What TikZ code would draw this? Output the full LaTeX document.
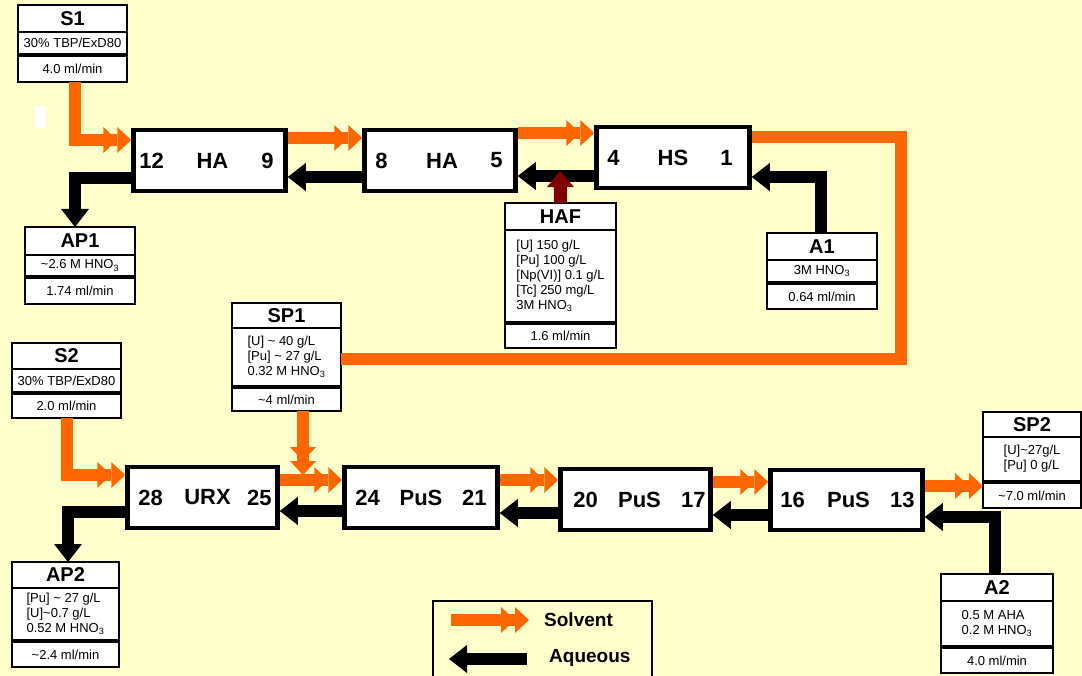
\documentclass[tikz,border=0pt]{standalone}
\usepackage{fontspec}
\setmainfont{Liberation Sans}
\usetikzlibrary{arrows.meta,calc}
\definecolor{bg}{HTML}{FFFFCC}
\definecolor{solvcol}{HTML}{FF6600}
\definecolor{feedcol}{HTML}{800000}
\begin{document}
\begin{tikzpicture}[x=1pt,y=-1pt,
  pbox/.style={draw, line width=4.5pt, fill=white, minimum height=61pt, inner sep=0pt},
  plbl/.style={font=\fontsize{22}{26}\selectfont\bfseries, inner sep=0pt},
  ib/.style={draw, line width=1.5pt, fill=white, inner sep=0pt, outer sep=0pt, font=\fontsize{13}{15}\selectfont, align=center},
  ibl/.style={ib, align=left},
  it/.style={ib, font=\fontsize{20}{24}\selectfont\bfseries},
  dhead/.style={-{Triangle[length=14pt,width=26pt,line width=0pt,sep=0pt]Triangle[length=14pt,width=26pt,line width=0pt]}},
  solv/.style={draw=solvcol, line width=12pt, line join=miter, dhead},
  solvline/.style={draw=solvcol, line width=12pt, line join=miter},
  aq/.style={draw=black, line width=12pt, line join=miter, -{Triangle[length=18pt,width=28pt,line width=0pt]}},
  feed/.style={draw=feedcol, line width=13pt, -{Triangle[length=16pt,width=27pt,line width=0pt]}}
]
\fill[bg] (0,0) rectangle (1082,676);
\useasboundingbox (0,0) rectangle (1082,676);
\fill[white] (35,106) rectangle (46,128);

% process boxes
\node[pbox, minimum width=152pt] (b1) at (209.5,160.5) {};
\node[pbox, minimum width=151pt] (b2) at (440,160.5) {};
\node[pbox, minimum width=153pt] (b3) at (673,157.5) {};
\node[pbox, minimum width=150pt] (b4) at (202.5,497.5) {};
\node[pbox, minimum width=153pt] (b5) at (421,497.5) {};
\node[pbox, minimum width=150pt] (b6) at (635.5,499.5) {};
\node[pbox, minimum width=152pt, minimum height=60pt] (b7) at (846.5,500) {};

\node[plbl, anchor=west] (b1l) at ([xshift=8pt]b1.west) {12};
\node[plbl] (b1c) at ([xshift=3pt]b1.center) {HA};
\node[plbl, anchor=east] (b1r) at ([xshift=-14pt]b1.east) {9};
\node[plbl, anchor=west] (b2l) at ([xshift=13pt]b2.west) {8};
\node[plbl] (b2c) at ([xshift=2pt]b2.center) {HA};
\node[plbl, anchor=east] (b2r) at ([xshift=-15pt]b2.east) {5};
\node[plbl, anchor=west] (b3l) at ([xshift=13pt]b3.west) {4};
\node[plbl] (b3c) at (b3.center) {HS};
\node[plbl, anchor=east] (b3r) at ([xshift=-19pt]b3.east) {1};
\node[plbl, anchor=west] (b4l) at ([xshift=13pt]b4.west) {28};
\node[plbl] (b4c) at ([xshift=5pt]b4.center) {URX};
\node[plbl, anchor=east] (b4r) at ([xshift=-8pt]b4.east) {25};
\node[plbl, anchor=west] (b5l) at ([xshift=13pt]b5.west) {24};
\node[plbl] (b5c) at (b5.center) {PuS};
\node[plbl, anchor=east] (b5r) at ([xshift=-13pt]b5.east) {21};
\node[plbl, anchor=west] (b6l) at ([xshift=15pt]b6.west) {20};
\node[plbl] (b6c) at ([xshift=4pt]b6.center) {PuS};
\node[plbl, anchor=east] (b6r) at ([xshift=-7pt]b6.east) {17};
\node[plbl, anchor=west] (b7l) at ([xshift=12pt]b7.west) {16};
\node[plbl] (b7c) at ([xshift=2pt]b7.center) {PuS};
\node[plbl, anchor=east] (b7r) at ([xshift=-10pt]b7.east) {13};

% info boxes
\node[it, minimum width=109pt, minimum height=27pt] (s1t) at (72.5,18.5) {S1};
\node[ib, minimum width=109pt, minimum height=22pt] (s1m) at (72.5,43) {30\% TBP/ExD80};
\node[ib, minimum width=109pt, minimum height=26pt] (s1f) at (72.5,69) {4.0 ml/min};

\node[it, minimum width=110pt, minimum height=28pt] (ap1t) at (80,241) {AP1};
\node[ib, minimum width=110pt, minimum height=21pt] (ap1m) at (80,265.5) {\textasciitilde2.6 M HNO\textsubscript{3}};
\node[ib, minimum width=110pt, minimum height=26pt] (ap1f) at (80,291) {1.74 ml/min};

\node[it, minimum width=111pt, minimum height=27pt] (haft) at (560.5,216.5) {HAF};
\node[ibl, minimum width=111pt, minimum height=92pt] (hafm) at (560.5,276) {[U] 150 g/L\\{}[Pu] 100 g/L\\{}[Np(VI)] 0.1 g/L\\{}[Tc] 250 mg/L\\3M HNO\textsubscript{3}};
\node[ib, minimum width=111pt, minimum height=24pt] (haff) at (560.5,336) {1.6 ml/min};

\node[it, minimum width=110pt, minimum height=27pt] (a1t) at (822,246.5) {A1};
\node[ib, minimum width=110pt, minimum height=22pt] (a1m) at (822,271) {3M HNO\textsubscript{3}};
\node[ib, minimum width=110pt, minimum height=25pt] (a1f) at (822,296.5) {0.64 ml/min};

\node[it, minimum width=109pt, minimum height=25pt] (sp1t) at (286.5,315.5) {SP1};
\node[ibl, minimum width=109pt, minimum height=58pt] (sp1m) at (286.5,357) {[U] \textasciitilde{} 40 g/L\\{}[Pu] \textasciitilde{} 27 g/L\\0.32 M HNO\textsubscript{3}};
\node[ib, minimum width=109pt, minimum height=23pt] (sp1f) at (286.5,399.5) {\textasciitilde4 ml/min};

\node[it, minimum width=109pt, minimum height=26pt] (s2t) at (66.5,356) {S2};
\node[ib, minimum width=109pt, minimum height=23pt] (s2m) at (66.5,380.5) {30\% TBP/ExD80};
\node[ib, minimum width=109pt, minimum height=24pt] (s2f) at (66.5,406) {2.0 ml/min};

\node[it, minimum width=107pt, minimum height=26pt] (ap2t) at (65.5,575) {AP2};
\node[ibl, minimum width=107pt, minimum height=52pt] (ap2m) at (65.5,614) {[Pu] \textasciitilde{} 27 g/L\\{}[U]\textasciitilde0.7 g/L\\0.52 M HNO\textsubscript{3}};
\node[ib, minimum width=107pt, minimum height=25pt] (ap2f) at (65.5,654.5) {\textasciitilde2.4 ml/min};

\node[it, minimum width=98pt, minimum height=25pt] (sp2t) at (1032,424.5) {SP2};
\node[ibl, minimum width=98pt, minimum height=44pt] (sp2m) at (1032,459) {[U]\textasciitilde27g/L\\{}[Pu] 0 g/L};
\node[ib, minimum width=98pt, minimum height=25pt] (sp2f) at (1032,495.5) {\textasciitilde7.0 ml/min};

\node[it, minimum width=112pt, minimum height=27pt] (a2t) at (997,587.5) {A2};
\node[ibl, minimum width=112pt, minimum height=45pt] (a2m) at (997,623.5) {0.5 M AHA\\0.2 M HNO\textsubscript{3}};
\node[ib, minimum width=112pt, minimum height=25pt] (a2f) at (997,660.5) {4.0 ml/min};

% solvent connectors
\draw[solv] ([xshift=2.5pt]s1f.south) |- ([yshift=20.5pt]b1.west);
\draw[solv] ([yshift=22.5pt]b1.east) -- ([yshift=22.5pt]b2.west);
\draw[solv] ([yshift=27.5pt]b2.east) -- ([yshift=24.5pt]b3.west);
\draw[solvline] ([yshift=20.5pt]b3.east) -| ([xshift=559.5pt,yshift=-2pt]sp1m.east) -- ([yshift=-2pt]sp1m.east);
\draw[solv] ([xshift=0.5pt]s2f.south) |- ([yshift=22.5pt]b4.west);
\draw[solv] ([yshift=17.5pt]b4.east) -- ([yshift=17.5pt]b5.west);
\coordinate (jn) at (303,475);
\draw[solv] ([xshift=16.5pt]sp1f.south) -- (jn);
\draw[solv] ([yshift=17.5pt]b5.east) -- ([yshift=19.5pt]b6.west);
\draw[solv] ([yshift=17.5pt]b6.east) -- ([yshift=18pt]b7.west);
\draw[solv] ([yshift=14pt]b7.east) -- ([yshift=9.5pt]sp2f.west);

% aqueous connectors
\draw[aq] ([yshift=-16.5pt]b2.west) -- ([yshift=-16.5pt]b1.east);
\draw[aq] ([yshift=-18.5pt]b3.west) -- ([yshift=-15.5pt]b2.east);
\draw[aq] ([xshift=-1pt]a1t.north) |- ([yshift=-19.5pt]b3.east);
\draw[aq] ([yshift=-17.5pt]b1.west) -| ([xshift=-5pt]ap1t.north);
\draw[aq] ([yshift=-13.5pt]b5.west) -- ([yshift=-13.5pt]b4.east);
\draw[aq] ([yshift=-13.5pt]b6.west) -- ([yshift=-15.5pt]b5.east);
\draw[aq] ([yshift=-15pt]b7.west) -- ([yshift=-15.5pt]b6.east);
\draw[aq] ([xshift=-2pt]a2t.north) |- ([yshift=-17pt]b7.east);
\draw[aq] ([yshift=-14.5pt]b4.west) -| ([xshift=2.5pt]ap2t.north);

% feed
\coordinate (hafend) at (560,171);
\draw[feed] (haft.north) -- (hafend);

% legend
\node[draw, line width=1.5pt, minimum width=219pt, minimum height=100pt, inner sep=0pt, anchor=north west] (legend) at (432,600) {};
\coordinate (ls1) at (451,620);
\coordinate (ls2) at (529,620);
\draw[solv] (ls1) -- (ls2);
\coordinate (la1) at (527,659);
\coordinate (la2) at (449,659);
\draw[aq] (la1) -- (la2);
\node[font=\fontsize{19}{22}\selectfont\bfseries, anchor=west, inner sep=0pt] (lsol) at (544,620) {Solvent};
\node[font=\fontsize{19}{22}\selectfont\bfseries, anchor=west, inner sep=0pt] (laq) at (549,658) {Aqueous};
\end{tikzpicture}
\end{document}
